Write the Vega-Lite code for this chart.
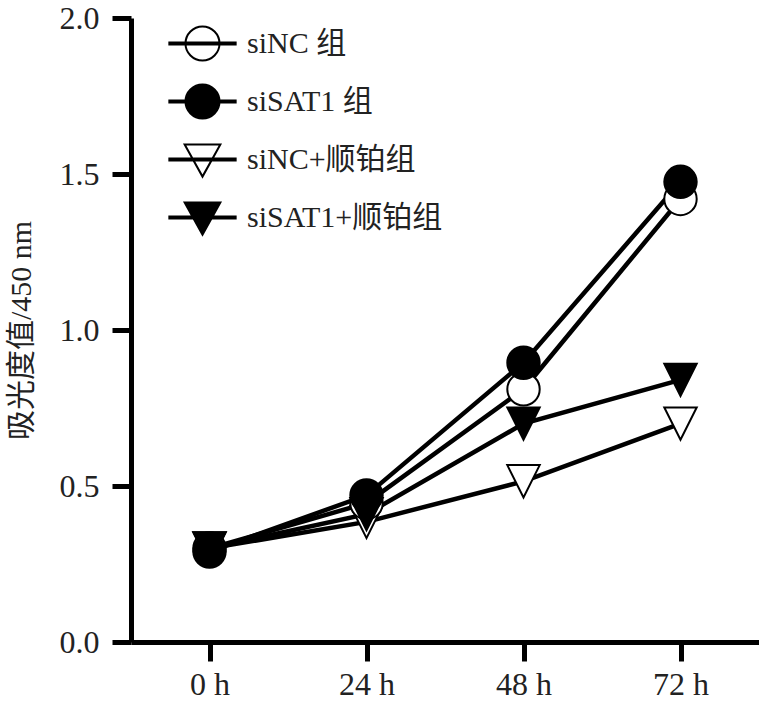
{
  "$schema": "https://vega.github.io/schema/vega-lite/v6.json",
  "autosize": {"type": "none"},
  "width": 628,
  "height": 624,
  "padding": {"left": 131, "top": 18, "right": 0, "bottom": 65},
  "background": "white",
  "config": {
    "view": {"stroke": null},
    "font": "'Liberation Serif', 'Times New Roman', 'Noto Sans CJK SC', serif",
    "axis": {"grid": false, "domainColor": "black", "tickColor": "black", "labelColor": "#222", "titleColor": "#222"}
  },
  "data": {
    "values": [
      {"series": "siNC+顺铂组", "time": "0 h", "value": 0.30},
      {"series": "siNC+顺铂组", "time": "24 h", "value": 0.385},
      {"series": "siNC+顺铂组", "time": "48 h", "value": 0.515},
      {"series": "siNC+顺铂组", "time": "72 h", "value": 0.70},
      {"series": "siNC 组", "time": "0 h", "value": 0.30},
      {"series": "siNC 组", "time": "24 h", "value": 0.445},
      {"series": "siNC 组", "time": "48 h", "value": 0.81},
      {"series": "siNC 组", "time": "72 h", "value": 1.42},
      {"series": "siSAT1+顺铂组", "time": "0 h", "value": 0.30},
      {"series": "siSAT1+顺铂组", "time": "24 h", "value": 0.41},
      {"series": "siSAT1+顺铂组", "time": "48 h", "value": 0.70},
      {"series": "siSAT1+顺铂组", "time": "72 h", "value": 0.84},
      {"series": "siSAT1 组", "time": "0 h", "value": 0.29},
      {"series": "siSAT1 组", "time": "24 h", "value": 0.47},
      {"series": "siSAT1 组", "time": "48 h", "value": 0.895},
      {"series": "siSAT1 组", "time": "72 h", "value": 1.475}
    ]
  },
  "encoding": {
    "x": {
      "field": "time", "type": "ordinal", "sort": ["0 h", "24 h", "48 h", "72 h"],
      "scale": {"type": "point", "padding": 0.5},
      "axis": {"title": null, "labelAngle": 0, "domainWidth": 5, "tickWidth": 5, "tickSize": 19, "labelFontSize": 32, "labelPadding": 8, "labelFont": "'Liberation Serif', 'Times New Roman', serif"}
    },
    "y": {
      "field": "value", "type": "quantitative",
      "scale": {"domain": [0, 2], "nice": false},
      "axis": {"title": "吸光度值/450 nm", "values": [0, 0.5, 1, 1.5, 2], "format": ".1f", "domainWidth": 5, "tickWidth": 5, "tickSize": 19, "labelFontSize": 32, "labelPadding": 13, "labelFont": "'Liberation Serif', 'Times New Roman', serif", "titleFont": "'Liberation Serif', 'Times New Roman', 'Noto Sans CJK SC', serif", "titleFontSize": 30, "titleFontWeight": "normal", "titlePadding": 23}
    }
  },
  "layer": [
    {
      "mark": {"type": "line", "color": "black", "strokeWidth": 4.5},
      "encoding": {"detail": {"field": "series"}}
    },
    {
      "mark": {"type": "point", "filled": true, "stroke": "black", "strokeWidth": 2, "size": 1050, "opacity": 1},
      "encoding": {
        "shape": {
          "field": "series", "type": "nominal",
          "scale": {"domain": ["siNC 组", "siSAT1 组", "siNC+顺铂组", "siSAT1+顺铂组"], "range": ["circle", "circle", "M-1,-1H1L0,1Z", "M-1,-1H1L0,1Z"]},
          "legend": null
        },
        "fill": {
          "field": "series", "type": "nominal",
          "scale": {"domain": ["siNC 组", "siSAT1 组", "siNC+顺铂组", "siSAT1+顺铂组"], "range": ["white", "black", "white", "black"]},
          "legend": null
        }
      }
    },
    {
      "mark": {"type": "point", "filled": true, "stroke": "black", "strokeWidth": 2, "size": 10, "opacity": 0},
      "encoding": {
        "shape": {
          "field": "series", "type": "nominal",
          "scale": {"domain": ["siNC 组", "siSAT1 组", "siNC+顺铂组", "siSAT1+顺铂组"], "range": [
            "M-1.3,-0.04H1.3V0.04H-1.3Z M-0.667,0A0.667,0.667 0 1,1 0.667,0A0.667,0.667 0 1,1 -0.667,0Z",
            "M-1.3,-0.04H1.3V0.04H-1.3Z M-0.667,0A0.667,0.667 0 1,1 0.667,0A0.667,0.667 0 1,1 -0.667,0Z",
            "M-1.3,-0.04H1.3V0.04H-1.3Z M-0.7,-0.59H0.7L0,0.67Z",
            "M-1.3,-0.04H1.3V0.04H-1.3Z M-0.7,-0.59H0.7L0,0.67Z"]},
          "legend": {
            "title": null, "orient": "none", "legendX": 45, "legendY": -1,
            "symbolSize": 2601, "symbolStrokeWidth": 2, "symbolOpacity": 1,
            "labelOffset": 18, "rowPadding": 10, "padding": 0,
            "labelFontSize": 30, "labelFont": "'Liberation Serif', 'Times New Roman', 'Noto Sans CJK SC', serif", "labelColor": "#222", "labelLimit": 400
          }
        },
        "fill": {
          "field": "series", "type": "nominal",
          "scale": {"domain": ["siNC 组", "siSAT1 组", "siNC+顺铂组", "siSAT1+顺铂组"], "range": ["white", "black", "white", "black"]}
        }
      }
    }
  ],
  "resolve": {"scale": {"shape": "independent", "fill": "independent"}}
}
